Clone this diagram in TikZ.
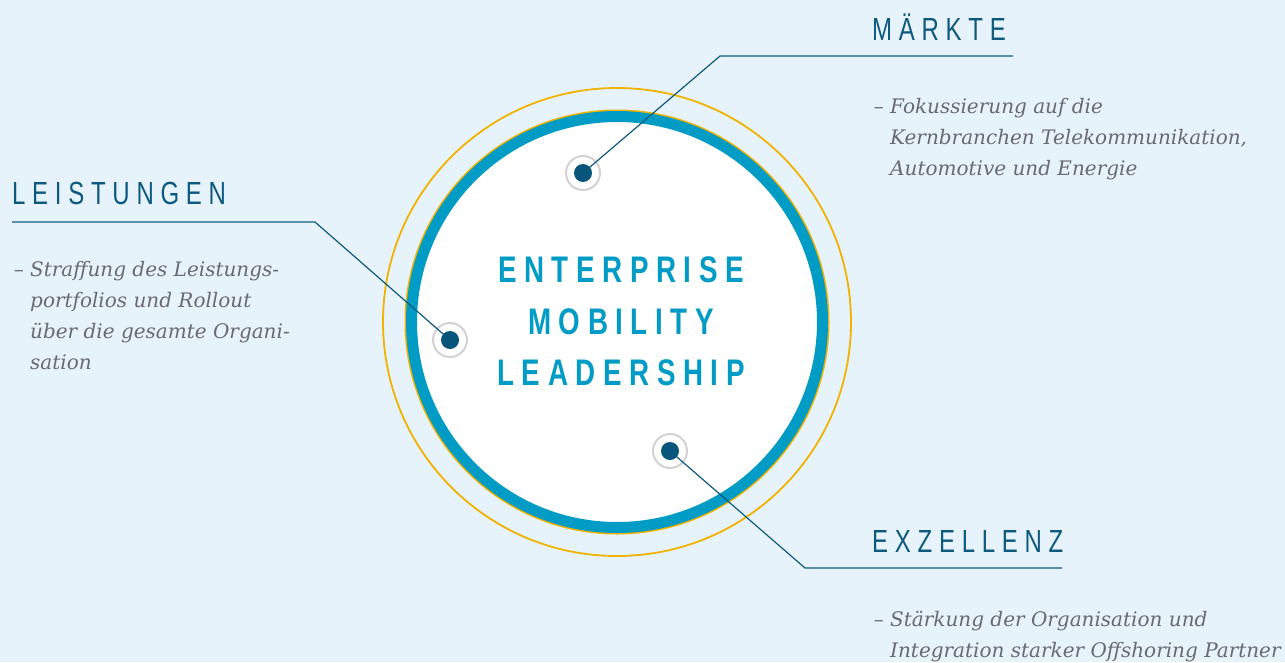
\documentclass[tikz,border=0pt]{standalone}
\usepackage{fontspec}
\setmainfont{Liberation Serif}
\newfontfamily\headfont[FakeStretch=0.75,LetterSpace=21]{Liberation Sans}
\newfontfamily\titlefont[FakeStretch=0.75,LetterSpace=20.5]{Liberation Sans}
\newfontfamily\bodyfont{DejaVu Serif}

\definecolor{bgblue}{HTML}{E6F3FA}
\definecolor{headblue}{HTML}{0E5A7E}
\definecolor{ringblue}{HTML}{009CC5}
\definecolor{ringyellow}{HTML}{F2B200}
\definecolor{dotblue}{HTML}{07557A}
\definecolor{textgrey}{HTML}{6A6A72}
\definecolor{halogrey}{HTML}{D2D2D2}

\def\corex{617}
\def\corey{322}

\begin{document}
\begin{tikzpicture}[x=1pt, y=-1pt]
    \tikzstyle{leader}=[draw=headblue, line width=1.2pt]
    \tikzstyle{halo}=[circle, draw=halogrey, line width=2pt, fill=white, minimum size=34pt, inner sep=0pt]
    \tikzstyle{pin}=[circle, fill=dotblue, minimum size=18pt, inner sep=0pt]
    \tikzstyle{heading}=[font=\headfont\fontsize{32}{36}\selectfont, text=headblue, inner sep=0pt, anchor=base west]
    \tikzstyle{body}=[font=\bodyfont\itshape\fontsize{20}{31}\selectfont, text=textgrey, align=left, inner sep=0pt, anchor=north west]

    % Background and bounding box
    \fill[bgblue] (0,0) rectangle (1285,662);
    \useasboundingbox (0,0) rectangle (1285,662);

    % Draw the rings round the centre
    \node[circle, draw=ringyellow, line width=1.8pt, minimum size=468pt, inner sep=0pt] (orbit) at (\corex,\corey) {};
    \node[circle, fill=ringyellow, minimum size=425pt, inner sep=0pt] (rim) at (\corex,\corey) {};
    \node[circle, draw=ringblue, line width=11pt, fill=white, minimum size=411pt, inner sep=0pt] (core) at (\corex,\corey) {};

    % The title in the centre
    \node[font=\titlefont\bfseries\fontsize{37}{51.5}\selectfont, text=ringblue, align=center, inner sep=0pt] (title) at (621,321.5) {ENTERPRISE\\MOBILITY\\LEADERSHIP};

    % Draw the markers
    \node[halo] (haloM) at (583,173) {};
    \node[halo] (haloL) at (450,340) {};
    \node[halo] (haloE) at (670,451) {};

    % Corners of the leader lines
    \coordinate (kneeM) at (720,56);
    \coordinate (endM) at (1013,56);
    \coordinate (startL) at (12,222);
    \coordinate (kneeL) at (315,222);
    \coordinate (kneeE) at (805,568);
    \coordinate (endE) at (1062,568);

    % Connect the markers with the headings
    \draw[leader] (haloM.center) -- (kneeM) -- (endM);
    \draw[leader] (startL) -- (kneeL) -- (haloL.center);
    \draw[leader] (haloE.center) -- (kneeE) -- (endE);

    \node[pin] (pinM) at (haloM) {};
    \node[pin] (pinL) at (haloL) {};
    \node[pin] (pinE) at (haloE) {};

    % Headings
    \node[heading] (headM) at (872,40) {MÄRKTE};
    \node[heading] (headL) at (12,204) {LEISTUNGEN};
    \node[heading] (headE) at (872,552) {EXZELLENZ};

    % Descriptions
    \node[body] (textM) at (890,98.5) {\llap{– }Fokussierung auf die\\Kernbranchen Telekommunikation,\\Automotive und Energie};
    \node[body] (textL) at (30,261.5) {\llap{– }Straffung des Leistungs-\\portfolios und Rollout\\über die gesamte Organi-\\sation};
    \node[body] (textE) at (890,610.5) {\llap{– }Stärkung der Organisation und\\Integration starker Offshoring Partner};
\end{tikzpicture}
\end{document}
